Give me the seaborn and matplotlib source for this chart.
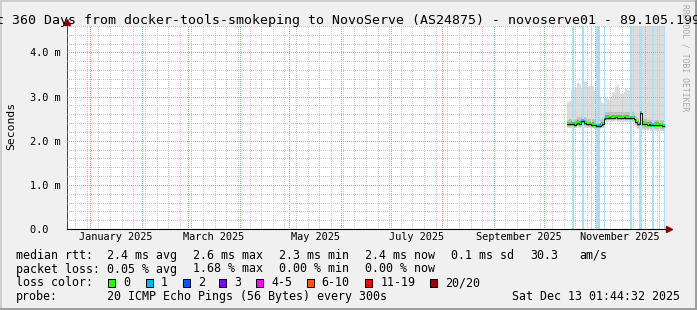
import numpy as np
import pandas as pd
import matplotlib
matplotlib.use("Agg")
import matplotlib.pyplot as plt
import matplotlib.dates as mdates
import matplotlib.transforms as mtransforms
from matplotlib.patches import Rectangle
from matplotlib.ticker import FixedLocator, MultipleLocator
import seaborn as sns

# ---------------- data ----------------
graph_end = "2025-12-13 01:44:32"
graph_days = 360
data_start = "2025-10-15 06:00"

median_ms = [2.37, 2.37, 2.38, 2.38, 2.36, 2.38, 2.40, 2.38, 2.44, 2.45,
             2.40, 2.38, 2.37, 2.37, 2.36, 2.36, 2.35, 2.33, 2.33, 2.34,
             2.36, 2.37, 2.50, 2.52, 2.52, 2.53, 2.52, 2.52, 2.52, 2.53,
             2.52, 2.52, 2.52, 2.52, 2.53, 2.52, 2.52, 2.51, 2.51, 2.51,
             2.50, 2.43, 2.38, 2.37, 2.62, 2.38, 2.37, 2.37, 2.36, 2.37,
             2.36, 2.36, 2.35, 2.36, 2.36, 2.35, 2.35, 2.34, 2.34]
loss_count = [0, 0, 0, 1, 0, 0, 0, 0, 0, 1,
              0, 0, 0, 0, 1, 0, 0, 1, 1, 1,
              0, 0, 1, 0, 0, 0, 0, 0, 0, 0,
              0, 0, 0, 0, 0, 0, 0, 0, 1, 0,
              0, 0, 0, 1, 1, 0, 0, 0, 0, 0,
              0, 1, 0, 0, 0, 1, 0, 0, 1]
smoke_max = [2.88, 2.90, 3.15, 3.12, 3.19, 3.20, 3.30, 3.28, 3.20, 3.18,
             3.34, 3.32, 3.22, 3.24, 3.26, 3.25, 3.15, 3.14, 3.05, 3.00,
             2.88, 2.86, 3.05, 2.98, 2.95, 2.93, 2.96, 3.10, 3.08, 3.22,
             3.26, 3.20, 3.05, 3.06, 3.10, 3.17, 3.15, 3.12, 3.15, 4.90,
             4.90, 4.90, 4.90, 4.90, 4.90, 4.90, 4.90, 4.90, 4.90, 4.90,
             4.90, 4.90, 4.90, 4.90, 4.90, 4.90, 4.90, 4.90, 4.90]
smoke_p80 = [2.48, 2.49, 2.50, 2.51, 2.49, 2.50, 2.53, 2.51, 2.57, 2.58,
             2.53, 2.51, 2.50, 2.50, 2.49, 2.49, 2.48, 2.47, 2.46, 2.47,
             2.49, 2.50, 2.63, 2.65, 2.65, 2.66, 2.65, 2.65, 2.65, 2.66,
             2.65, 2.65, 2.65, 2.65, 2.66, 2.65, 2.65, 2.64, 2.64, 2.64,
             2.63, 2.56, 2.50, 2.49, 2.85, 2.50, 2.49, 2.49, 2.48, 2.49,
             2.48, 2.48, 2.47, 2.48, 2.48, 2.47, 2.47, 2.46, 2.46]
smoke_p60 = [2.43, 2.43, 2.44, 2.44, 2.42, 2.44, 2.46, 2.44, 2.50, 2.51,
             2.46, 2.44, 2.43, 2.43, 2.42, 2.42, 2.41, 2.39, 2.39, 2.40,
             2.42, 2.43, 2.56, 2.58, 2.58, 2.59, 2.58, 2.58, 2.58, 2.59,
             2.58, 2.58, 2.58, 2.58, 2.59, 2.58, 2.58, 2.57, 2.57, 2.57,
             2.56, 2.49, 2.44, 2.43, 2.80, 2.44, 2.43, 2.43, 2.42, 2.43,
             2.42, 2.42, 2.41, 2.42, 2.42, 2.41, 2.41, 2.40, 2.40]
smoke_p40 = [2.34, 2.34, 2.35, 2.34, 2.33, 2.35, 2.36, 2.35, 2.40, 2.41,
             2.36, 2.35, 2.34, 2.34, 2.33, 2.33, 2.32, 2.30, 2.30, 2.31,
             2.33, 2.34, 2.47, 2.49, 2.49, 2.50, 2.49, 2.49, 2.49, 2.50,
             2.49, 2.49, 2.49, 2.49, 2.50, 2.49, 2.49, 2.48, 2.48, 2.48,
             2.47, 2.39, 2.34, 2.33, 2.55, 2.34, 2.33, 2.33, 2.32, 2.33,
             2.32, 2.32, 2.31, 2.32, 2.32, 2.31, 2.31, 2.30, 2.30]
smoke_p20 = [2.31, 2.31, 2.32, 2.31, 2.30, 2.32, 2.33, 2.32, 2.35, 2.36,
             2.33, 2.32, 2.31, 2.31, 2.30, 2.30, 2.29, 2.27, 2.27, 2.28,
             2.30, 2.31, 2.44, 2.46, 2.46, 2.47, 2.46, 2.46, 2.46, 2.47,
             2.46, 2.46, 2.46, 2.46, 2.47, 2.46, 2.46, 2.45, 2.45, 2.45,
             2.44, 2.35, 2.29, 2.28, 2.30, 2.28, 2.27, 2.28, 2.27, 2.28,
             2.27, 2.27, 2.26, 2.27, 2.27, 2.26, 2.26, 2.25, 2.25]
smoke_min = [2.28, 2.28, 2.29, 2.27, 2.28, 2.29, 2.30, 2.29, 2.31, 2.32,
             2.30, 2.29, 2.28, 2.28, 2.27, 2.28, 2.27, 2.25, 2.25, 2.26,
             2.28, 2.29, 2.41, 2.43, 2.43, 2.44, 2.43, 2.43, 2.43, 2.44,
             2.43, 2.43, 2.43, 2.43, 2.44, 2.43, 2.43, 2.42, 2.42, 2.42,
             2.41, 2.32, 2.26, 2.25, 2.26, 2.24, 2.23, 2.24, 2.23, 2.24,
             2.23, 2.23, 2.22, 2.23, 2.23, 2.22, 2.22, 2.21, 2.21]

y_ticks = [0.0, 1.0, 2.0, 3.0, 4.0]
y_tick_labels = ["0.0  ", "1.0 m", "2.0 m", "3.0 m", "4.0 m"]
x_label_months = ["2025-01", "2025-03", "2025-05", "2025-07", "2025-09", "2025-11"]
x_tick_labels = ["January 2025", "March 2025", "May 2025", "July 2025",
                 "September 2025", "November 2025"]

title_text = "t 360 Days from docker-tools-smokeping to NovoServe (AS24875) - novoserve01 - 89.105.199"
y_axis_label = "Seconds"
rtt_label = "median rtt:"
rtt_values = ["2.4 ms avg", "2.6 ms max", "2.3 ms min", "2.4 ms now", "0.1 ms sd", "30.3", "am/s"]
loss_label = "packet loss:"
loss_values = ["0.05 % avg", "1.68 % max", "0.00 % min", "0.00 % now"]
color_label = "loss color:"
loss_classes = ["0", "1", "2", "3", "4-5", "6-10", "11-19", "20/20"]
loss_class_colors = ["#26ff00", "#00b8ff", "#0059ff", "#7e00ff",
                     "#ff00ff", "#ff5500", "#ff0000", "#a10000"]
probe_label = "probe:"
probe_text = "20 ICMP Echo Pings (56 Bytes) every 300s"
timestamp_text = "Sat Dec 13 01:44:32 2025"
watermark_text = "RRDTOOL / TOBI OETIKER"

# ---------------- layout / style ----------------
W, H = 697, 310
MONO = "DejaVu Sans Mono"
Y_TOP = 4.6
BG = "#f0f0f0"
DOT = (0.5, (1, 1))   # 1px on / 1px off, aligned to pixel edges after snapping


def fx(px):
    return px / W


def fy(py):
    return 1 - py / H


def loss_class(n):
    if n <= 3:
        return n
    if n <= 5:
        return 4
    if n <= 10:
        return 5
    if n <= 19:
        return 6
    return 7


fig = plt.figure(figsize=(W / 100, H / 100), dpi=100)
fig.patch.set_facecolor(BG)

ax = fig.add_axes([fx(67), fy(229), 598 / W, 203 / H])
ax.set_facecolor("white")
ax.xaxis_date()

t_end = pd.Timestamp(graph_end)
t_start = t_end - pd.Timedelta(days=graph_days)
xlim = (mdates.date2num(t_start.to_pydatetime()), mdates.date2num(t_end.to_pydatetime()))

days = pd.date_range(data_start, periods=len(median_ms), freq="D")
day_num = mdates.date2num(days.to_pydatetime())
edges = np.append(day_num, day_num[-1] + 1)


def ext(a):
    return np.append(np.asarray(a, float), a[-1])


# smoke
ax.fill_between(edges, ext(smoke_min), ext(smoke_max), step="post",
                color="#dcdcdc", linewidth=0, zorder=1.0)
ax.fill_between(edges, ext(smoke_p20), ext(smoke_p80), step="post",
                color="#c0c0c0", linewidth=0, zorder=1.1)
ax.fill_between(edges, ext(smoke_p40), ext(smoke_p60), step="post",
                color="#8e8e8e", linewidth=0, zorder=1.2)

# loss bars
loss_arr = np.asarray(loss_count)
mask = loss_arr > 0
ax.bar(day_num[mask] + 0.5, Y_TOP, width=0.9, bottom=0,
       color="#a8e2fa", linewidth=0, zorder=2.0)

# median coloured by loss
seg_colors = [loss_class_colors[loss_class(n)] for n in loss_count]
ax.hlines(median_ms, day_num, day_num + 1, colors=seg_colors,
          linewidth=2.6, zorder=4)
df_line = pd.DataFrame({"t": pd.to_datetime(mdates.num2date(edges)).tz_localize(None),
                        "median": ext(median_ms)})
sns.lineplot(data=df_line, x="t", y="median", drawstyle="steps-post",
             color="black", linewidth=0.6, estimator=None, ax=ax, zorder=5)
ax.set_xlim(*xlim)
ax.set_ylim(0, Y_TOP)
ax.set_xlabel("")
ax.set_ylabel("")

# grid
ax.yaxis.set_major_locator(FixedLocator(y_ticks))
ax.set_yticklabels(y_tick_labels)
ax.yaxis.set_minor_locator(MultipleLocator(0.2))
ax.xaxis.set_major_locator(mdates.MonthLocator())
ax.xaxis.set_minor_locator(mdates.WeekdayLocator(byweekday=mdates.MO))
ax.grid(True, which="minor", color="#c8c8c8", linestyle=DOT, linewidth=0.72)
ax.grid(True, which="major", color="#f58f8f", linestyle=DOT, linewidth=0.72)
ax.set_axisbelow(False)
ax.tick_params(axis="x", which="both", length=0, labelbottom=False)
ax.tick_params(axis="y", which="both", length=0)
ax.tick_params(axis="y", which="major", pad=26.6, labelsize=7.4)
for lab in ax.get_yticklabels():
    lab.set_fontfamily(MONO)
    lab.set_ha("left")

for s in ["top", "right"]:
    ax.spines[s].set_visible(False)
ax.spines["bottom"].set_color("black")
ax.spines["bottom"].set_linewidth(0.8)
ax.spines["left"].set_color("#444444")
ax.spines["left"].set_linewidth(0.72)
ax.plot([1.006], [0], marker=">", ms=4, color="#8b0000", transform=ax.transAxes,
        clip_on=False, zorder=6)
ax.plot([0], [1.018], marker="^", ms=4, color="#8b0000", transform=ax.transAxes,
        clip_on=False, zorder=6)

# month labels centred in their month
btf = mtransforms.blended_transform_factory(ax.transData, fig.transFigure)
for m, lbl in zip(x_label_months, x_tick_labels):
    m0 = pd.Timestamp(m + "-01")
    m1 = m0 + pd.offsets.MonthBegin(1)
    centre = m0 + (m1 - m0) / 2
    ax.text(mdates.date2num(centre.to_pydatetime()), fy(240.5), lbl, transform=btf,
            ha="center", va="baseline", fontsize=7.4, family=MONO, color="black")

# texts
txt = dict(family=MONO, color="black")
fig.text(fx(-3.7), fy(24.2), title_text, ha="left", va="baseline", fontsize=9.57, **txt)
fig.text(fx(11), fy(126), y_axis_label, rotation=90, ha="center", va="center", fontsize=8.2, **txt)
fig.text(fx(685.5), fy(4), watermark_text, rotation=270, ha="center", va="top",
         fontsize=5.8, family=MONO, color="#a8a8a8")

LEG = 8.4
fig.text(fx(16), fy(259), rtt_label, ha="left", va="baseline", fontsize=LEG, **txt)
for xp, v in zip([107.3, 193.3, 279.3, 365.3, 451, 530, 579], rtt_values):
    fig.text(fx(xp), fy(259), v, ha="left", va="baseline", fontsize=LEG, **txt)
fig.text(fx(16), fy(272.5), loss_label, ha="left", va="baseline", fontsize=LEG, **txt)
for xp, v in zip([107.3, 193.3, 279.3, 365.3], loss_values):
    fig.text(fx(xp), fy(272.5), v, ha="left", va="baseline", fontsize=LEG, **txt)
fig.text(fx(16), fy(286), color_label, ha="left", va="baseline", fontsize=LEG, **txt)
for bx, lbl, col in zip([108.3, 145.7, 182.7, 219.3, 256, 306.7, 365.3, 430],
                        loss_classes, loss_class_colors):
    fig.add_artist(Rectangle((fx(bx), fy(286.5)), 7 / W, 8 / H, transform=fig.transFigure,
                             facecolor=col, edgecolor="black", linewidth=0.72))
    fig.text(fx(bx + 15), fy(286), lbl, ha="left", va="baseline", fontsize=LEG, **txt)
fig.text(fx(16), fy(300), probe_label, ha="left", va="baseline", fontsize=LEG, **txt)
fig.text(fx(107.3), fy(300), probe_text, ha="left", va="baseline", fontsize=LEG, **txt)
fig.text(fx(680), fy(300), timestamp_text, ha="right", va="baseline", fontsize=LEG, **txt)

# frame shading
for (x0, y0, w, h, c) in [(0, 0, W, 2, "#cfcfcf"), (0, 0, 2, H, "#cfcfcf"),
                          (W - 2, 0, 2, H, "#9e9e9e"), (0, H - 2, W, 2, "#9e9e9e")]:
    fig.add_artist(Rectangle((fx(x0), fy(y0 + h)), w / W, h / H, transform=fig.transFigure,
                             facecolor=c, edgecolor="none", linewidth=0))

fig.savefig("out.png", dpi=100, facecolor=BG)
